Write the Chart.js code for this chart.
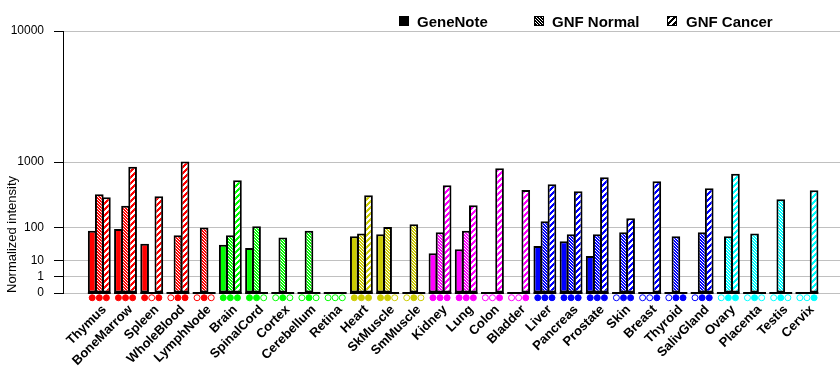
<!DOCTYPE html>
<html><head><meta charset="utf-8">
<script src="https://cdn.jsdelivr.net/npm/chart.js@4/dist/chart.umd.min.js"></script>
<style>html,body{margin:0;padding:0;background:#fff}</style>
</head><body>
<canvas id="c" width="840" height="385"></canvas>
<script>
const categories = ['Thymus','BoneMarrow','Spleen','WholeBlood','LymphNode','Brain','SpinalCord','Cortex','Cerebellum','Retina','Heart','SkMuscle','SmMuscle','Kidney','Lung','Colon','Bladder','Liver','Pancreas','Prostate','Skin','Breast','Thyroid','SalivGland','Ovary','Placenta','Testis','Cervix'];
const geneNote  = [85, 93, 39, 0, 0, 36, 29, 0, 0, 0, 62, 70, 0, 19, 26, 0, 0, 33, 46, 15, 0, 0, 0, 0, 0, 0, 0, 0];
const gnfNormal = [390, 260, 0, 66, 100, 66, 106, 58, 85, 0, 73, 103, 117, 78, 85, 0, 0, 135, 70, 70, 78, 0, 62, 78, 62, 73, 328, 0];
const gnfCancer = [352, 887, 365, 1015, 0, 606, 0, 0, 0, 0, 377, 0, 0, 522, 263, 849, 450, 538, 431, 662, 155, 589, 0, 475, 734, 0, 0, 446];
const flagGeneNote  = [1,1,1,0,0,1,1,0,0,0,1,1,0,1,1,0,0,1,1,1,0,0,0,0,0,0,0,0];
const flagGnfNormal = [1,1,0,1,1,1,1,1,1,0,1,1,1,1,1,0,0,1,1,1,1,0,1,1,1,1,1,0];
const flagGnfCancer = [1,1,1,1,0,1,0,0,0,0,1,0,0,1,1,1,1,1,1,1,1,1,1,1,1,0,0,1];
const colorGroup = [0,0,0,0,0,1,1,1,1,1,2,2,2,3,3,3,3,4,4,4,4,4,4,4,5,5,5,5];
const groupColors = ['#ff0000','#00ff00','#cccc00','#ff00ff','#0000ff','#00ffff'];
const seriesNames = ['GeneNote','GNF Normal','GNF Cancer'];
const yTickValues = [0, 1, 10, 100, 1000, 10000];
const yTickLabels = ['0', '1', '10', '100', '1000', '10000'];

const FONT = "'Liberation Sans', Arial, sans-serif";
const T = v => v <= 0 ? 0 : Math.pow(2, Math.log10(v)); // axis transform (doubling per decade)

function makeFill(kind, color) {
  if (kind === 0) return color;
  const c = document.createElement('canvas');
  const g = c.getContext('2d');
  if (kind === 1) {
    c.width = c.height = 3;
    g.fillStyle = color; g.fillRect(0, 0, 3, 3);
    g.fillStyle = '#fff';
    for (let i = 0; i < 3; i++) g.fillRect(i, i, 1, 1);
  } else {
    c.width = c.height = 6;
    for (let y = 0; y < 6; y++) for (let x = 0; x < 6; x++) {
      g.fillStyle = ((x + y) % 6) < 3 ? color : '#fff';
      g.fillRect(x, y, 1, 1);
    }
  }
  return g.createPattern(c, 'repeat');
}
const fills = [0,1,2].map(k => groupColors.map(col => makeFill(k, col)));
const legendFills = [0,1,2].map(k => makeFill(k, '#000'));

const series = [geneNote, gnfNormal, gnfCancer];
const flags = [flagGeneNote, flagGnfNormal, flagGnfCancer];
const CAT_PCT = 0.813;

const barSets = series.map((vals, k) => ({
  type: 'bar',
  label: seriesNames[k],
  data: vals.map((v, i) => ({x: i + 1, y: T(v)})),
  backgroundColor: ctx => fills[k][colorGroup[ctx.dataIndex]],
  borderColor: '#000',
  borderWidth: 2,
  borderSkipped: false,
  categoryPercentage: CAT_PCT,
  barPercentage: 1.22
}));
const markerSets = flags.map((fl, k) => ({
  type: 'scatter',
  label: 'm' + k,
  data: fl.map((f, i) => ({x: i + 1 + (k - 1) * CAT_PCT / 3, y: -0.29})),
  pointStyle: 'circle',
  pointRadius: 3,
  pointBorderWidth: 1,
  pointBackgroundColor: fl.map((f, i) => f ? groupColors[colorGroup[i]] : '#fff'),
  pointBorderColor: fl.map((f, i) => groupColors[colorGroup[i]]),
  clip: false
}));

const baselinePlugin = {
  id: 'baseline',
  beforeDatasetsDraw(chart) {
    const ctx = chart.ctx;
    const y = chart.scales.y.getPixelForValue(0);
    const m0 = chart.getDatasetMeta(0), m2 = chart.getDatasetMeta(2);
    ctx.save();
    ctx.fillStyle = '#000';
    for (let i = 0; i < categories.length; i++) {
      const a = m0.data[i], b = m2.data[i];
      const x0 = a.x - a.width / 2, x1 = b.x + b.width / 2;
      ctx.fillRect(x0, y - 1, x1 - x0, 2);
    }
    ctx.restore();
  }
};
const legendPlugin = {
  id: 'customLegend',
  afterDraw(chart) {
    const ctx = chart.ctx;
    const pos = [[399, 417], [534, 552], [667, 686]];
    ctx.save();
    ctx.font = "bold 15px " + FONT;
    ctx.textBaseline = 'alphabetic';
    seriesNames.forEach((n, k) => {
      const [bx, tx] = pos[k];
      ctx.fillStyle = legendFills[k];
      ctx.fillRect(bx, 16, 10, 10);
      ctx.strokeStyle = '#000'; ctx.lineWidth = 1;
      ctx.strokeRect(bx + 0.5, 16.5, 9, 9);
      ctx.fillStyle = '#000';
      ctx.fillText(n, tx, 26.5);
    });
    ctx.restore();
  }
};

new Chart(document.getElementById('c'), {
  type: 'bar',
  data: { datasets: [...barSets, ...markerSets] },
  plugins: [baselinePlugin, legendPlugin],
  options: {
    responsive: false,
    animation: false,
    events: [],
    layout: { autoPadding: false, padding: { top: 31, left: 0, right: 0, bottom: 0 } },
    plugins: { legend: { display: false }, tooltip: { enabled: false } },
    scales: {
      x: {
        type: 'linear', min: -0.385, max: 29.26, offset: false,
        afterBuildTicks: s => { s.ticks = categories.map((c, i) => ({value: i + 1})); },
        afterFit: s => { s.height = 92; s.paddingLeft = 0; s.paddingRight = 0; },
        ticks: { autoSkip: false, minRotation: 45, maxRotation: 45, padding: 9, labelOffset: 5, color: '#000',
                 font: { family: FONT, size: 13, weight: 'bold' },
                 callback: (v, i) => categories[i] },
        grid: { display: false, drawTicks: false },
        border: { display: false }
      },
      y: {
        type: 'linear', min: 0, max: T(10000),
        afterBuildTicks: s => { s.ticks = yTickValues.map(v => ({value: T(v)})); },
        afterFit: s => { s.width = 63; },
        ticks: { color: '#000', padding: 10, font: { family: FONT, size: 12 },
                 callback: (v, i) => yTickLabels[i] },
        grid: { color: '#c0c0c0', tickColor: '#000', tickLength: 9, lineWidth: 1 },
        border: { color: '#000', width: 1 },
        title: { display: true, text: 'Normalized intensity', align: 'start', color: '#000',
                 font: { family: FONT, size: 13 }, padding: { top: 5, bottom: 0 } }
      }
    }
  }
});
</script>
</body></html>
